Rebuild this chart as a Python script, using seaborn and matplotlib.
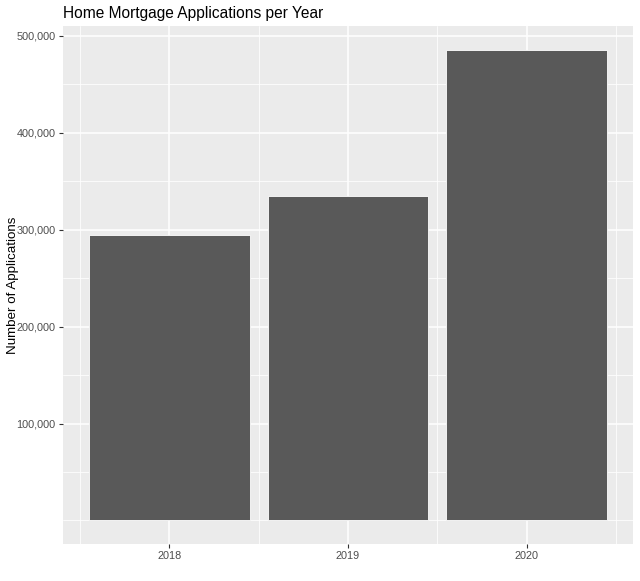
import matplotlib
matplotlib.use("Agg")
import matplotlib.pyplot as plt
import seaborn as sns
import pandas as pd
from matplotlib.ticker import FixedLocator, FuncFormatter

years = ["2018", "2019", "2020"]
applications = [295000, 335300, 486000]
y_major = [100000, 200000, 300000, 400000, 500000]
y_minor = [0, 50000, 150000, 250000, 350000, 450000]

df = pd.DataFrame({"year": years, "applications": applications})

sns.set_theme(style="darkgrid")
plt.rcParams["font.family"] = ["Liberation Sans", "DejaVu Sans"]

fig = plt.figure(figsize=(6.4, 5.81), dpi=100)
ax = fig.add_axes([63/640, 1 - 544/581, (633-63)/640, (544-26)/581])
ax.set_facecolor("#EBEBEB")

sns.barplot(data=df, x="year", y="applications", order=years, color="#595959",
            saturation=1, width=0.9, edgecolor="white", linewidth=0.6, ax=ax, zorder=3)

ymax = max(applications)
ax.set_ylim(-0.05 * ymax, 1.05 * ymax)
ax.set_xlim(-0.595, 2.595)

ax.yaxis.set_major_locator(FixedLocator(y_major))
ax.yaxis.set_minor_locator(FixedLocator(y_minor))
ax.yaxis.set_major_formatter(FuncFormatter(lambda v, p: f"{int(v):,}"))
ax.xaxis.set_minor_locator(FixedLocator([-0.5, 0.5, 1.5, 2.5]))

ax.grid(which="major", color="white", linewidth=1.1, zorder=0)
ax.grid(which="minor", color="white", linewidth=0.55, zorder=0)
ax.set_axisbelow(True)
for s in ax.spines.values():
    s.set_visible(False)

ax.tick_params(which="major", length=2.8, width=0.8, color="#333333", labelcolor="#4D4D4D",
               labelsize=7.8, pad=2.5, left=True, bottom=True)
ax.tick_params(which="minor", length=0)

ax.set_xlabel("")
ax.set_ylabel("Number of Applications", fontsize=9.6, color="black")
ax.yaxis.set_label_coords((19 - 63) / 570, 0.5)
ax.set_title("Home Mortgage Applications per Year", loc="left", fontsize=11.2,
             color="black", pad=6)

fig.savefig("out.png", dpi=100)
